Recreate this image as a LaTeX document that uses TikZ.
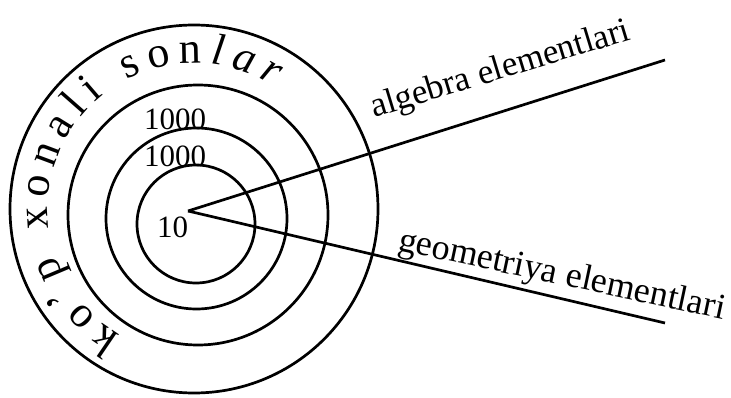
\documentclass[tikz,border=0pt]{standalone}
\usepackage{fontspec}
\setmainfont{Liberation Serif}
\usepackage{tikz}
\usetikzlibrary{decorations.text}

\begin{document}
\begin{tikzpicture}[x=1pt, y=1pt,
		ring/.style={line width=2.7pt},
		ray/.style={line width=2.7pt},
		numlbl/.style={inner sep=0pt, anchor=base, font=\fontsize{31}{31}\selectfont},
		raylbl/.style={inner sep=0pt, anchor=base west, font=\fontsize{35}{35}\selectfont}]
	\useasboundingbox (0,-398) rectangle (731,0);
	\clip (0,-398) rectangle (731,0);
	% rings
	\foreach \cx/\cy/\r in {196/-224/59, 196.5/-218.5/90.5, 198/-215/130, 194/-209/184}
		\draw[ring] (\cx,\cy) circle[radius=\r];
	% text round the outer ring
	\path[decorate, decoration={text along path, text align=fit to path,
			text={|\fontsize{44}{44}\selectfont|ko'p xonali son|\fontsize{44}{44}\selectfont\itshape|lar}}]
		(194,-209) ++(240:146) arc[start angle=240, end angle=57, radius=146];
	% numbers
	\node[numlbl] (numA) at (175,-130) {1000};
	\node[numlbl] (numB) at (175,-167) {1000};
	\node[numlbl] (numC) at (172.5,-238) {10};
	% rays
	\coordinate (apex) at (188,-211);
	\coordinate (algEnd) at (665,-60);
	\coordinate (geoEnd) at (665,-323);
	\draw[ray] (apex) -- (algEnd);
	\draw[ray] (apex) -- (geoEnd);
	\node[raylbl, rotate=17] (algLbl) at (374,-118) {algebra elementlari};
	\node[raylbl, rotate=-12, font=\fontsize{36}{36}\selectfont] (geoLbl) at (397,-250) {geometriya elementlari};
\end{tikzpicture}
\end{document}
